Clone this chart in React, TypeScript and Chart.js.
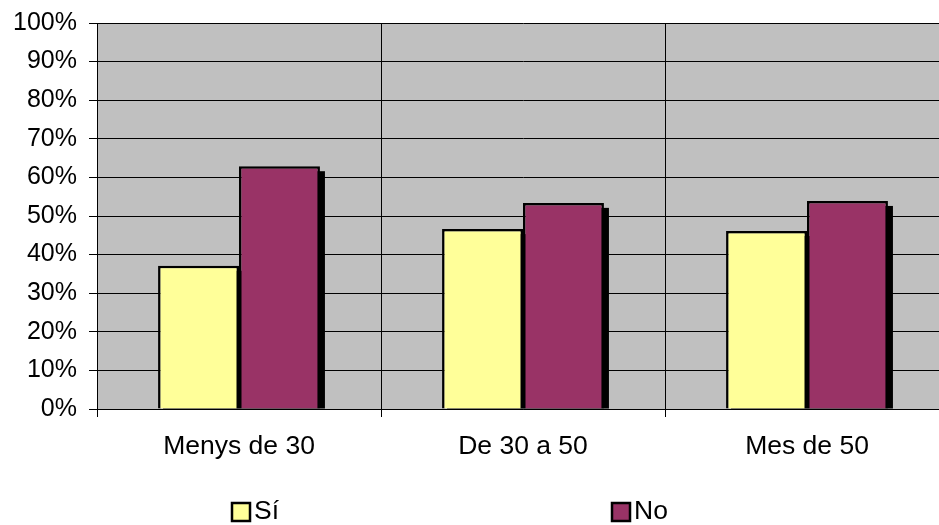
import React, { useEffect, useRef } from "react";
import { Chart, registerables } from "chart.js";

Chart.register(...registerables);

const categories = ["Menys de 30", "De 30 a 50", "Mes de 50"];
const siValues = [37.1, 46.6, 46.1];
const noValues = [62.9, 53.4, 53.9];
const seriesNames = ["Sí", "No"];
const seriesColors = ["#FFFF99", "#993366"];

const FONT = "'Liberation Sans', Arial, sans-serif";

const bgPlugin = {
  id: "plotBg",
  beforeDraw(chart: any) {
    const { ctx, chartArea } = chart;
    ctx.save();
    ctx.fillStyle = "#C0C0C0";
    ctx.fillRect(chartArea.left, chartArea.top, chartArea.right - chartArea.left, chartArea.bottom - chartArea.top);
    ctx.restore();
  },
};

const shadowPlugin = {
  id: "barShadow",
  beforeDatasetsDraw(chart: any) {
    const { ctx } = chart;
    ctx.save();
    ctx.fillStyle = "#000000";
    chart.data.datasets.forEach((_: any, di: number) => {
      const meta = chart.getDatasetMeta(di);
      meta.data.forEach((bar: any) => {
        const p = bar.getProps(["x", "y", "base", "width"], true);
        const off = 5;
        ctx.fillRect(p.x - p.width / 2 + off, p.y + off, p.width, p.base - p.y - off);
      });
    });
    ctx.restore();
  },
};

const legendPlugin = {
  id: "customLegend",
  afterDraw(chart: any) {
    const { ctx } = chart;
    const items = [
      { x: 232, label: seriesNames[0], color: seriesColors[0] },
      { x: 612, label: seriesNames[1], color: seriesColors[1] },
    ];
    ctx.save();
    items.forEach((it) => {
      ctx.fillStyle = it.color;
      ctx.fillRect(it.x, 503, 18, 18);
      ctx.lineWidth = 2.5;
      ctx.strokeStyle = "#000";
      ctx.strokeRect(it.x, 503, 18, 18);
      ctx.fillStyle = "#000";
      ctx.font = `26.5px ${FONT}`;
      ctx.textBaseline = "middle";
      ctx.textAlign = "left";
      ctx.fillText(it.label, it.x + 22, 512);
    });
    ctx.restore();
  },
};

export default function App() {
  const ref = useRef<HTMLCanvasElement>(null);
  useEffect(() => {
    if (!ref.current) return;
    const chart = new Chart(ref.current, {
      type: "bar",
      data: {
        labels: categories,
        datasets: [
          {
            label: seriesNames[0],
            data: siValues,
            backgroundColor: seriesColors[0],
            borderColor: "#000",
            borderWidth: 2.5,
            barPercentage: 1,
            categoryPercentage: 0.57,
          },
          {
            label: seriesNames[1],
            data: noValues,
            backgroundColor: seriesColors[1],
            borderColor: "#000",
            borderWidth: 2.5,
            barPercentage: 1,
            categoryPercentage: 0.57,
          },
        ],
      },
      options: {
        responsive: false,
        animation: false,
        layout: { padding: { left: 0, top: 23, right: 11, bottom: 0 } },
        plugins: { legend: { display: false }, tooltip: { enabled: false } },
        scales: {
          x: {
            grid: { display: true, offset: true, color: "#000", tickColor: "#000", tickLength: 8, lineWidth: 1 },
            border: { display: true, color: "#000" },
            ticks: { color: "#000", font: { family: FONT, size: 26.5 }, padding: 14, maxRotation: 0 },
            afterFit(scale: any) {
              scale.height = 116;
              scale.paddingLeft = 0;
              scale.paddingRight = 0;
            },
          },
          y: {
            min: 0,
            max: 100,
            grid: { color: "#000", tickColor: "#000", tickLength: 8, lineWidth: 1 },
            border: { display: true, color: "#000" },
            ticks: {
              stepSize: 10,
              color: "#000",
              font: { family: FONT, size: 25 },
              padding: 12,
              callback: (v: any) => v + "%",
            },
            afterFit(scale: any) {
              scale.width = 97;
              scale.paddingTop = 0;
              scale.paddingBottom = 0;
            },
          },
        },
      },
      plugins: [bgPlugin, shadowPlugin, legendPlugin],
    });
    return () => chart.destroy();
  }, []);
  return (
    <div style={{ position: "fixed", left: 0, top: 0, width: 939, height: 525, overflow: "hidden", background: "#fff" }}>
      <canvas ref={ref} width={960} height={525} style={{ width: 960, height: 525, display: "block" }} />
    </div>
  );
}
